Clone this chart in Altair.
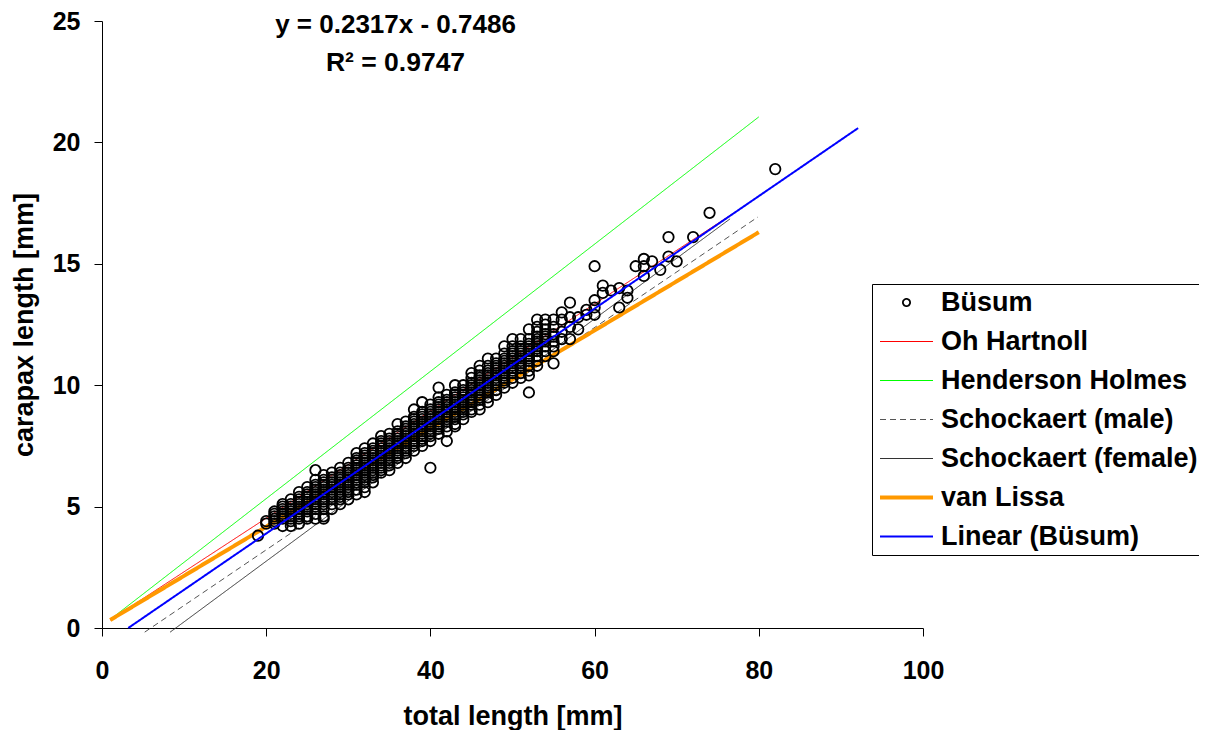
import altair as alt
import pandas as pd

# ---------------- data ----------------
series_names = [
    "Büsum",
    "Oh Hartnoll",
    "Henderson Holmes",
    "Schockaert (male)",
    "Schockaert (female)",
    "van Lissa",
    "Linear (Büsum)",
]

# Büsum measurements: total length [mm] -> carapax lengths [mm] in that column
busum_columns = {
    19: [3.8],
    20: [4.3, 4.4],
    21: [4.3, 4.4, 4.5, 4.6, 4.7, 4.8],
    22: [4.2, 4.5, 4.6, 4.7, 4.8, 4.9, 5.0, 5.1],
    23: [4.2, 4.4, 4.5, 4.6, 4.7, 4.8, 4.9, 5.0, 5.1, 5.3],
    24: [4.3, 4.5, 4.6, 4.7, 4.8, 4.9, 5.0, 5.1, 5.2, 5.3, 5.4, 5.6],
    25: [4.5, 4.6, 4.8, 4.9, 5.0, 5.1, 5.2, 5.3, 5.4, 5.5, 5.6, 5.8],
    26: [4.5, 4.7, 4.9, 5.0, 5.1, 5.2, 5.3, 5.4, 5.5, 5.6, 5.7, 5.8, 5.9, 6.1, 6.5],
    27: [4.5, 4.6, 4.9, 5.1, 5.2, 5.3, 5.4, 5.5, 5.6, 5.7, 5.8, 5.9, 6.0, 6.1, 6.3],
    28: [4.9, 5.1, 5.3, 5.4, 5.5, 5.6, 5.7, 5.8, 5.9, 6.0, 6.1, 6.2, 6.4],
    29: [5.1, 5.3, 5.4, 5.5, 5.6, 5.7, 5.8, 5.9, 6.0, 6.1, 6.2, 6.3, 6.4, 6.6],
    30: [5.3, 5.5, 5.6, 5.7, 5.8, 5.9, 6.0, 6.1, 6.2, 6.3, 6.4, 6.5, 6.6, 6.8],
    31: [5.5, 5.7, 5.9, 6.0, 6.1, 6.2, 6.3, 6.4, 6.5, 6.6, 6.7, 6.8, 6.9, 7.0, 7.2],
    32: [5.6, 5.8, 6.0, 6.1, 6.2, 6.3, 6.4, 6.5, 6.6, 6.7, 6.8, 6.9, 7.0, 7.1, 7.2, 7.4],
    33: [6.0, 6.2, 6.3, 6.4, 6.5, 6.6, 6.7, 6.8, 6.9, 7.0, 7.1, 7.2, 7.3, 7.4, 7.6],
    34: [6.4, 6.5, 6.6, 6.7, 6.8, 6.9, 7.0, 7.1, 7.2, 7.3, 7.4, 7.5, 7.6, 7.7, 7.9],
    35: [6.5, 6.7, 6.8, 6.9, 7.0, 7.1, 7.2, 7.3, 7.4, 7.5, 7.6, 7.7, 7.8, 8.0],
    36: [6.8, 7.0, 7.1, 7.2, 7.3, 7.4, 7.5, 7.6, 7.7, 7.8, 7.9, 8.0, 8.1, 8.4],
    37: [7.0, 7.2, 7.3, 7.4, 7.5, 7.6, 7.7, 7.8, 7.9, 8.0, 8.1, 8.2, 8.3, 8.5],
    38: [7.3, 7.5, 7.6, 7.7, 7.8, 7.9, 8.0, 8.1, 8.2, 8.3, 8.4, 8.5, 8.6, 8.7, 9.0],
    39: [7.5, 7.7, 7.8, 7.9, 8.0, 8.1, 8.2, 8.3, 8.4, 8.5, 8.6, 8.7, 8.8, 8.9, 9.3],
    40: [6.6, 7.7, 7.9, 8.0, 8.1, 8.2, 8.3, 8.4, 8.5, 8.6, 8.7, 8.8, 8.9, 9.0, 9.2],
    41: [8.0, 8.2, 8.3, 8.4, 8.5, 8.6, 8.7, 8.8, 8.9, 9.0, 9.1, 9.2, 9.3, 9.5, 9.9],
    42: [7.7, 8.1, 8.3, 8.5, 8.6, 8.7, 8.8, 8.9, 9.0, 9.1, 9.2, 9.3, 9.4, 9.6],
    43: [8.3, 8.4, 8.6, 8.7, 8.8, 8.9, 9.0, 9.1, 9.2, 9.3, 9.4, 9.5, 9.6, 9.7, 10.0],
    44: [8.6, 8.8, 8.9, 9.0, 9.1, 9.2, 9.3, 9.4, 9.5, 9.6, 9.7, 9.8, 10.0],
    45: [8.9, 9.0, 9.2, 9.3, 9.4, 9.5, 9.6, 9.7, 9.8, 9.9, 10.0, 10.1, 10.3, 10.5],
    46: [9.0, 9.2, 9.4, 9.5, 9.6, 9.7, 9.8, 9.9, 10.0, 10.1, 10.2, 10.3, 10.4, 10.6, 10.8],
    47: [9.3, 9.5, 9.7, 9.8, 9.9, 10.0, 10.1, 10.2, 10.3, 10.4, 10.5, 10.6, 10.8, 11.1],
    48: [9.6, 9.8, 10.0, 10.1, 10.2, 10.3, 10.4, 10.5, 10.6, 10.7, 10.8, 10.9, 11.1],
    49: [9.9, 10.1, 10.2, 10.3, 10.4, 10.5, 10.6, 10.7, 10.8, 10.9, 11.0, 11.1, 11.3, 11.6],
    50: [10.1, 10.3, 10.5, 10.6, 10.7, 10.8, 10.9, 11.0, 11.1, 11.2, 11.3, 11.4, 11.6, 11.9],
    51: [10.3, 10.5, 10.7, 10.8, 10.9, 11.0, 11.1, 11.2, 11.3, 11.4, 11.5, 11.6, 11.9],
    52: [9.7, 10.4, 10.6, 10.8, 11.0, 11.1, 11.2, 11.3, 11.4, 11.5, 11.6, 11.7, 11.9, 12.3],
    53: [10.8, 11.0, 11.2, 11.4, 11.5, 11.6, 11.7, 11.8, 11.9, 12.0, 12.2, 12.4, 12.7],
    54: [11.2, 11.4, 11.6, 11.8, 11.9, 12.0, 12.1, 12.3, 12.5, 12.7],
    55: [10.9, 11.4, 11.6, 11.8, 12.0, 12.1, 12.4, 12.7],
    56: [11.9, 12.2, 12.7, 13.0],
    57: [11.9, 12.4, 12.8, 13.4],
    58: [12.3, 12.8],
    59: [12.9, 13.1],
    60: [12.9, 13.2, 13.5, 14.9],
    61: [13.8, 14.1],
    62: [13.9],
    63: [13.2, 14.0],
    64: [13.6, 13.9],
    65: [14.9],
    66: [14.5, 14.9, 15.2],
    67: [15.1],
    68: [14.75],
    69: [15.3, 16.1],
    70: [15.1],
    72: [16.1],
    74: [17.1],
    82: [18.9],
}

# model lines (end points)
oh_hartnoll_tl = [1.0, 77.0]
oh_hartnoll_cl = [0.33, 17.1]
henderson_tl = [1.0, 80.0]
henderson_cl = [0.35, 21.05]
schock_male_tl = [5.2, 79.9]
schock_male_cl = [-0.17, 16.93]
schock_female_tl = [8.3, 76.5]
schock_female_cl = [-0.17, 16.85]
van_lissa_tl = [1.0, 80.0]
van_lissa_cl = [0.33, 16.3]
linear_tl = [3.2, 92.1]
linear_cl = [0.0, 20.59]

equation_text = "y = 0.2317x - 0.7486"
r2_text = "R\u00b2 = 0.9747"

# ---------------- tables ----------------
busum_rows = [
    {"series": "Büsum", "tl": tl, "cl": cl}
    for tl, cls in busum_columns.items()
    for cl in cls
]
busum_df = pd.DataFrame(busum_rows)

under_lines = [
    ("Oh Hartnoll", oh_hartnoll_tl, oh_hartnoll_cl),
    ("Henderson Holmes", henderson_tl, henderson_cl),
    ("Schockaert (male)", schock_male_tl, schock_male_cl),
    ("Schockaert (female)", schock_female_tl, schock_female_cl),
    ("van Lissa", van_lissa_tl, van_lissa_cl),
]
under_df = pd.DataFrame(
    [{"series": s, "tl": x, "cl": y} for s, xs, ys in under_lines for x, y in zip(xs, ys)]
)
linear_df = pd.DataFrame(
    [{"series": "Linear (Büsum)", "tl": x, "cl": y} for x, y in zip(linear_tl, linear_cl)]
)

# ---------------- styling ----------------
FONT = "Liberation Sans"
circle_path = "M0.72,0A0.72,0.72,0,1,1,-0.72,0A0.72,0.72,0,1,1,0.72,0Z"
line_path = "M-5.3,0L5.3,0"

color_scale = alt.Scale(
    domain=series_names,
    range=["#000000", "#FF0000", "#00FF00", "#555555", "#333333", "#FF9900", "#0000FF"],
)
shape_scale = alt.Scale(
    domain=series_names,
    range=[circle_path] + [line_path] * 6,
)
dash_scale = alt.Scale(
    domain=series_names,
    range=[[1, 0], [1, 0], [1, 0], [6, 4], [1, 0], [1, 0], [1, 0]],
)
width_scale = alt.Scale(
    type="ordinal",
    domain=series_names,
    range=[1.8, 1, 1, 1, 1, 4, 2],
)

legend = alt.Legend(
    title=None,
    orient="none",
    legendX=770,
    legendY=263,
    direction="vertical",
    labelFont=FONT,
    labelFontSize=27,
    labelFontWeight="bold",
    labelColor="black",
    labelLimit=500,
    labelOffset=21,
    symbolOffset=16,
    symbolSize=100,
    rowPadding=11,
    padding=5,
    strokeColor="black",
    fillColor="white",
)

x_enc = alt.X(
    "tl:Q",
    scale=alt.Scale(domain=[0, 100], nice=False),
    axis=alt.Axis(
        values=[0, 20, 40, 60, 80, 100],
        format="d",
        title="total length [mm]",
        labelPadding=22,
        labelFlush=False,
        titleBaseline="alphabetic",
        titleY=96,
    ),
)
y_enc = alt.Y(
    "cl:Q",
    scale=alt.Scale(domain=[0, 25], nice=False),
    axis=alt.Axis(
        values=[0, 5, 10, 15, 20, 25],
        format="d",
        title="carapax length [mm]",
        labelPadding=14,
        labelFlush=False,
        titleAngle=270,
        titleBaseline="alphabetic",
        titleAlign="center",
        titleX=-70,
        titleY=303.5,
    ),
)
color_enc = alt.Color("series:N", scale=color_scale, legend=legend)
shape_enc = alt.Shape("series:N", scale=shape_scale, legend=legend)
dash_enc = alt.StrokeDash("series:N", scale=dash_scale, legend=legend)
width_enc = alt.StrokeWidth("series:N", scale=width_scale, legend=legend)

lines_under = alt.Chart(under_df).mark_line().encode(
    x=x_enc, y=y_enc, color=color_enc, strokeDash=dash_enc, strokeWidth=width_enc
)
points = alt.Chart(busum_df).mark_point(
    filled=False, size=210, strokeWidth=1.8, opacity=1
).encode(x=x_enc, y=y_enc, color=color_enc, shape=shape_enc)
line_top = alt.Chart(linear_df).mark_line().encode(
    x=x_enc, y=y_enc, color=color_enc, strokeDash=dash_enc, strokeWidth=width_enc
)

chart = (
    alt.layer(lines_under, points, line_top)
    .properties(
        width=821,
        height=607,
        autosize=alt.AutoSizeParams(type="none"),
        padding={"left": 94, "top": 13, "right": 276, "bottom": 102},
        title=alt.TitleParams(
            text=equation_text,
            subtitle=r2_text,
            font=FONT,
            fontSize=26,
            fontWeight="bold",
            color="black",
            subtitleFont=FONT,
            subtitleFontSize=26.5,
            subtitleFontWeight="bold",
            subtitleColor="black",
            subtitlePadding=12,
            anchor="middle",
            frame="group",
            orient="top",
            offset=-67,
            dx=-117,
        ),
    )
    .configure_view(strokeWidth=0)
    .configure_axis(
        labelFont=FONT,
        labelFontSize=25,
        labelFontWeight="bold",
        labelColor="black",
        titleFont=FONT,
        titleFontSize=27,
        titleFontWeight="bold",
        titleColor="black",
        domainColor="black",
        tickColor="black",
        tickSize=8,
        domainWidth=1,
        tickWidth=1,
        grid=False,
    )
)

chart.save("out.html", embed_options={"renderer": "svg", "actions": False})
